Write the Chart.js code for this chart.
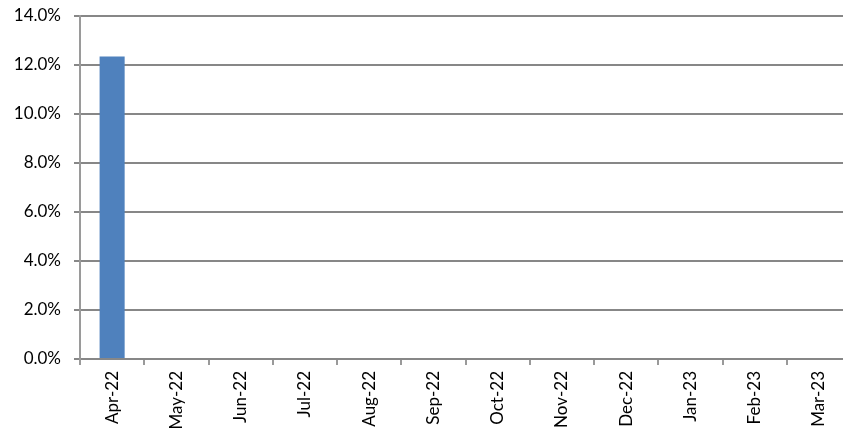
<!DOCTYPE html>
<html><head><meta charset="utf-8">
<script src="https://cdn.jsdelivr.net/npm/chart.js@4"></script>
<style>
html,body{margin:0;padding:0;overflow:hidden;background:#fff;width:843px;height:439px;}
#wrap{width:851px;height:439px;position:relative;}
</style></head>
<body><div id="wrap"><canvas id="c" width="851" height="439"></canvas></div>
<script>
const categories = ["Apr-22","May-22","Jun-22","Jul-22","Aug-22","Sep-22","Oct-22","Nov-22","Dec-22","Jan-23","Feb-23","Mar-23"];
const values = [12.35,null,null,null,null,null,null,null,null,null,null,null];
const yTicks = [0,2,4,6,8,10,12,14];

const gridCol = '#878787';
const axisCol = '#9a9a9a';
new Chart(document.getElementById('c'), {
  type: 'bar',
  data: { labels: categories, datasets: [{ data: values, backgroundColor: '#4F81BD', barPercentage: 0.39, categoryPercentage: 1 }] },
  options: {
    responsive: false, animation: false, devicePixelRatio: 1,
    layout: { padding: { top: 16, left: 0, right: 0, bottom: 0 } },
    plugins: { legend: { display: false }, tooltip: { enabled: false } },
    scales: {
      x: {
        offset: true,
        grid: { offset: true, drawOnChartArea: false, drawTicks: true, tickLength: 6, color: axisCol, lineWidth: 2 },
        border: { color: gridCol, width: 2 },
        ticks: { maxRotation: 90, minRotation: 90, padding: 6, color: '#000', font: { family: 'Lato', size: 17 } },
        afterFit(s) { s.height = 80; s.paddingLeft = 0; s.paddingRight = 0; }
      },
      y: {
        min: 0, max: 14,
        afterBuildTicks(s) { s.ticks = yTicks.map(v => ({ value: v })); },
        grid: { color: gridCol, lineWidth: 2, tickLength: 6, drawTicks: true },
        border: { color: axisCol, width: 2 },
        ticks: { padding: 13, color: '#000', font: { family: 'Lato', size: 17 }, callback: v => v.toFixed(1) + '%' },
        afterFit(s) { s.width = 80; s.paddingTop = 0; s.paddingBottom = 0; }
      }
    }
  }
});
</script></body></html>
